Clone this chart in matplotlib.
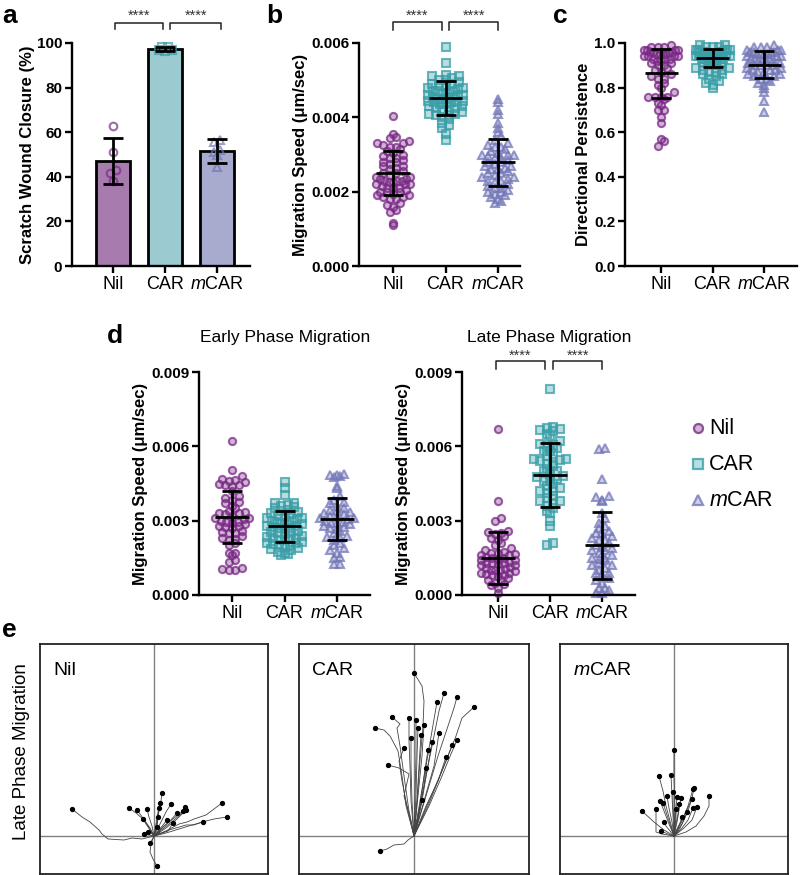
import matplotlib
matplotlib.use('Agg')
import matplotlib.pyplot as plt
import matplotlib.transforms as mtransforms
from matplotlib.colors import to_rgba
import numpy as np

plt.rcParams['font.family'] = ['Liberation Sans', 'DejaVu Sans']
plt.rcParams['mathtext.fontset'] = 'custom'
plt.rcParams['mathtext.rm'] = 'Liberation Sans'
plt.rcParams['mathtext.it'] = 'Liberation Sans:italic'

# groups
groups = ['Nil', 'CAR', '$m$CAR']
markers = ['o', 's', '^']
pt_colors = ['#7A2A86', '#3A9FA8', '#7478B8']
bar_colors = ['#A77BAE', '#9BCAD1', '#A8AACE']

# a: scratch wound closure (%)
wound = [
    [63.0, 51.0, 43.0, 41.5, 38.0],
    [98.0, 98.2, 97.0, 96.5, 97.0],
    [56.5, 55.5, 52.0, 51.0, 50.0, 44.5],
]
wound_mean = [47.0, 97.3, 51.6]
wound_sd = [10.4, 0.8, 5.3]

# b: migration speed (x 0.001 um/sec)
speed_nil = [4.03, 3.55, 3.45, 3.48, 3.35, 3.30, 3.25, 3.20, 3.15, 3.10, 3.05, 3.00, 2.95,
             2.90, 2.85, 2.80, 2.80, 2.75, 2.70, 2.65, 2.60, 2.55, 2.50, 2.50, 2.45, 2.40,
             2.40, 2.35, 2.30, 2.30, 2.25, 2.20, 2.20, 2.15, 2.10, 2.10, 2.05, 2.00, 2.00,
             1.95, 1.90, 1.90, 1.85, 1.85, 1.80, 1.80, 1.70, 1.65, 1.60, 1.50, 1.45, 1.10,
             1.15, 2.20, 2.25, 2.30, 2.10, 2.35, 2.00, 3.30, 3.20, 2.90, 2.70]
speed_car = [5.90, 5.45, 5.15, 5.10, 5.10, 5.05, 5.00, 5.00, 4.95, 4.90, 4.90, 4.85, 4.80,
             4.80, 4.75, 4.70, 4.70, 4.65, 4.60, 4.60, 4.55, 4.55, 4.50, 4.50, 4.45, 4.45,
             4.40, 4.40, 4.35, 4.30, 4.30, 4.25, 4.20, 4.20, 4.15, 4.10, 4.05, 4.05, 4.00,
             3.95, 3.85, 3.80, 3.70, 3.55, 3.40, 4.60, 4.65, 4.50, 4.40, 4.35, 4.85, 4.70,
             4.25, 4.10]
speed_mcar = [4.50, 4.40, 4.20, 4.10, 3.85, 3.70, 3.60, 3.50, 3.40, 3.30, 3.25, 3.20, 3.15,
              3.10, 3.05, 3.00, 3.00, 2.95, 2.90, 2.85, 2.80, 2.80, 2.75, 2.70, 2.65, 2.60,
              2.60, 2.55, 2.50, 2.45, 2.40, 2.40, 2.35, 2.30, 2.25, 2.20, 2.15, 2.10, 2.10,
              2.05, 2.00, 2.00, 1.95, 1.90, 1.85, 1.80, 1.75, 1.70, 3.20, 2.90, 2.70, 2.50,
              2.30, 3.00]
speed_mean = [2.50, 4.51, 2.79]
speed_sd = [0.60, 0.46, 0.63]

# c: directional persistence
pers_nil = [0.99, 0.98, 0.98, 0.97, 0.97, 0.97, 0.96, 0.96, 0.96, 0.95, 0.95, 0.95, 0.94,
            0.94, 0.94, 0.93, 0.93, 0.92, 0.92, 0.91, 0.91, 0.90, 0.90, 0.89, 0.88, 0.87,
            0.86, 0.85, 0.84, 0.84, 0.82, 0.81, 0.80, 0.78, 0.76, 0.76, 0.76, 0.76, 0.75,
            0.73, 0.72, 0.70, 0.70, 0.67, 0.64, 0.57, 0.54, 0.56, 0.96, 0.97, 0.95, 0.93,
            0.98, 0.94]
pers_car = [0.99, 0.99, 0.98, 0.98, 0.98, 0.97, 0.97, 0.97, 0.97, 0.96, 0.96, 0.96, 0.96,
            0.95, 0.95, 0.95, 0.95, 0.94, 0.94, 0.94, 0.93, 0.93, 0.93, 0.92, 0.92, 0.92,
            0.91, 0.91, 0.90, 0.90, 0.89, 0.89, 0.88, 0.88, 0.87, 0.87, 0.86, 0.86, 0.85,
            0.84, 0.83, 0.82, 0.80, 0.81, 0.94, 0.95, 0.96, 0.97, 0.93, 0.92]
pers_mcar = [0.99, 0.98, 0.98, 0.98, 0.97, 0.97, 0.97, 0.96, 0.96, 0.96, 0.95, 0.95, 0.95,
             0.94, 0.94, 0.94, 0.93, 0.93, 0.93, 0.92, 0.92, 0.91, 0.91, 0.90, 0.90, 0.90,
             0.89, 0.89, 0.88, 0.88, 0.87, 0.87, 0.86, 0.86, 0.85, 0.85, 0.84, 0.84, 0.83,
             0.82, 0.81, 0.80, 0.78, 0.74, 0.69, 0.96, 0.95, 0.93, 0.92, 0.90, 0.88]
pers_mean = [0.865, 0.932, 0.902]
pers_sd = [0.110, 0.040, 0.061]

# d: early phase speed (x 0.001 um/sec)
early_nil = [6.20, 5.05, 4.80, 4.70, 4.65, 4.60, 4.55, 4.50, 4.45, 4.40, 4.20, 4.00, 3.90,
             3.85, 3.70, 3.60, 3.50, 3.40, 3.30, 3.30, 3.25, 3.20, 3.10, 3.05, 3.00, 2.95,
             2.90, 2.85, 2.80, 2.75, 2.70, 2.60, 2.55, 2.50, 2.50, 2.40, 2.30, 2.25, 2.20,
             2.10, 2.00, 1.70, 1.70, 1.60, 1.40, 1.35, 1.10, 1.05, 1.00, 1.00, 3.35, 3.10,
             2.95, 2.80, 4.45, 3.75]
early_car = [4.55, 4.30, 4.05, 3.70, 3.70, 3.65, 3.60, 3.55, 3.50, 3.45, 3.40, 3.35, 3.30,
             3.25, 3.20, 3.15, 3.10, 3.05, 3.00, 2.95, 2.90, 2.85, 2.80, 2.80, 2.75, 2.70,
             2.65, 2.60, 2.55, 2.50, 2.45, 2.40, 2.35, 2.30, 2.25, 2.20, 2.15, 2.10, 2.05,
             2.00, 1.95, 1.90, 1.85, 1.80, 1.75, 1.70, 1.65, 1.60, 3.00, 2.90, 2.70, 2.50,
             2.30, 2.20, 2.10, 2.00, 3.10]
early_mcar = [4.90, 4.85, 4.85, 4.80, 4.75, 4.40, 4.30, 4.00, 3.85, 3.75, 3.70, 3.60, 3.50,
              3.45, 3.40, 3.30, 3.25, 3.20, 3.15, 3.10, 3.05, 3.00, 2.95, 2.90, 2.85, 2.80,
              2.75, 2.70, 2.60, 2.50, 2.40, 2.35, 2.30, 2.20, 2.10, 2.00, 1.90, 1.80, 1.70,
              1.55, 1.50, 1.25, 1.25, 3.35, 3.10, 2.90, 2.65]
early_mean = [3.15, 2.77, 3.05]
early_sd = [1.05, 0.64, 0.85]

# d: late phase speed (x 0.001 um/sec)
late_nil = [6.70, 3.80, 3.10, 3.00, 2.60, 2.55, 2.50, 2.45, 2.40, 2.30, 2.20, 2.10, 2.00,
            1.90, 1.80, 1.75, 1.70, 1.65, 1.60, 1.55, 1.50, 1.50, 1.45, 1.40, 1.35, 1.30,
            1.30, 1.25, 1.20, 1.15, 1.10, 1.05, 1.00, 1.00, 0.95, 0.90, 0.85, 0.80, 0.75,
            0.70, 0.60, 0.50, 0.45, 0.40, 0.30, 0.10, 1.60, 1.40, 1.20, 1.00, 0.80, 1.70,
            1.30, 0.90, 0.60]
late_car = [8.30, 6.80, 6.75, 6.70, 6.65, 6.60, 6.50, 6.40, 6.10, 6.05, 6.00, 5.95, 5.80,
            5.70, 5.60, 5.50, 5.45, 5.40, 5.30, 5.20, 5.10, 5.00, 4.90, 4.80, 4.75, 4.70,
            4.60, 4.50, 4.40, 4.30, 4.20, 4.10, 4.00, 3.90, 3.80, 3.70, 3.60, 3.50, 3.40,
            3.30, 3.00, 2.80, 2.00, 2.10, 5.50, 5.30, 5.00, 4.60, 4.20, 3.80, 6.20, 5.80]
late_mcar = [5.90, 5.95, 4.70, 4.00, 3.95, 3.85, 3.80, 3.30, 3.10, 2.90, 2.80, 2.70, 2.60,
             2.50, 2.40, 2.30, 2.20, 2.10, 2.00, 1.95, 1.90, 1.80, 1.70, 1.60, 1.50, 1.45,
             1.40, 1.30, 1.20, 1.10, 1.00, 0.90, 0.80, 0.70, 0.60, 0.50, 0.30, 0.30, 0.20,
             0.10, 0.10, 2.50, 2.20, 1.80, 1.50, 1.20, 0.90]
late_mean = [1.50, 4.85, 2.00]
late_sd = [1.05, 1.28, 1.35]

# e: late phase tracks (start at origin)
tracks_nil = [
    [(0, 0), (-12, -3), (-22, -2), (-30, -4), (-46, -3), (-52, 2), (-55, 6), (-64, 14), (-72, 19), (-82, 27)],
    [(0, 0), (12, 5), (25, 12), (33, 14), (40, 17), (52, 21), (60, 27), (68, 33)],
    [(0, 0), (15, 6), (32, 11), (40, 11), (48, 14), (60, 17), (73, 19)],
    [(0, 0), (12, 3), (25, 7), (38, 11), (49, 14)],
    [(0, 0), (3, 12), (5, 25), (7, 35), (8, 43)],
    [(0, 0), (2, 12), (4, 24), (6, 33)],
    [(0, 0), (3, 10), (4, 20), (5, 28)],
    [(0, 0), (6, 12), (12, 24), (17, 32)],
    [(0, 0), (10, 8), (20, 16), (27, 22), (31, 29)],
    [(0, 0), (12, 8), (22, 16), (32, 26)],
    [(0, 0), (8, 8), (16, 15), (23, 23)],
    [(0, 0), (-4, 8), (-10, 16), (-18, 23), (-25, 28)],
    [(0, 0), (-5, 9), (-11, 18), (-17, 26)],
    [(0, 0), (-2, 10), (-5, 19), (-7, 27)],
    [(0, 0), (-4, 6), (-8, 12), (-11, 17)],
    [(0, 0), (-5, 1), (-10, 2)],
    [(0, 0), (2, 8), (3, 14), (4, 19)],
    [(0, 0), (5, 6), (9, 11), (13, 16)],
    [(0, 0), (-3, -8), (-4, -16), (-1, -23), (3, -30)],
    [(0, 0), (-2, -4), (-4, -7)],
    [(0, 0), (14, 5), (19, 13)],
    [(0, 0), (10, 10), (20, 18), (29, 25)],
    [(0, 0), (-3, 3), (-6, 4)],
    [(0, 0), (6, 4), (3, 9)],
]
tracks_car = [
    [(0, 0), (3, 35), (6, 75), (9, 110), (10, 135), (8, 150), (0, 163)],
    [(0, 0), (7, 35), (14, 70), (20, 100), (25, 125), (30, 143)],
    [(0, 0), (12, 40), (24, 80), (34, 110), (40, 128), (43, 139)],
    [(0, 0), (15, 35), (30, 70), (42, 100), (48, 118), (60, 129)],
    [(0, 0), (6, 35), (12, 70), (18, 105), (23, 134)],
    [(0, 0), (-5, 25), (-10, 60), (-14, 90), (-17, 108), (-14, 112), (-22, 119)],
    [(0, 0), (-8, 30), (-12, 60), (-16, 85), (-24, 100), (-30, 106), (-39, 108)],
    [(0, 0), (-3, 35), (-4, 70), (-5, 95), (-5, 118)],
    [(0, 0), (1, 40), (2, 80), (2, 116)],
    [(0, 0), (4, 40), (8, 80), (10, 111)],
    [(0, 0), (2, 40), (3, 80), (4, 108)],
    [(0, 0), (-2, 35), (-3, 70), (-3, 98)],
    [(0, 0), (3, 35), (5, 70), (7, 101)],
    [(0, 0), (-6, 25), (-12, 55), (-15, 75), (-10, 88)],
    [(0, 0), (6, 30), (10, 60), (14, 86)],
    [(0, 0), (8, 35), (13, 65), (18, 94)],
    [(0, 0), (10, 35), (20, 70), (25, 103)],
    [(0, 0), (15, 30), (28, 60), (37, 82), (43, 96)],
    [(0, 0), (14, 30), (26, 60), (34, 80), (38, 91)],
    [(0, 0), (12, 30), (24, 55), (32, 79)],
    [(0, 0), (-4, 20), (-10, 40), (-5, 62), (-15, 68), (-26, 71)],
    [(0, 0), (5, 25), (10, 50), (12, 68)],
    [(0, 0), (4, 15), (8, 36)],
    [(0, 0), (-6, -4), (-10, -8), (-20, -9), (-27, -13), (-34, -15)],
]
tracks_mcar = [
    [(0, 0), (1, 25), (0, 55), (0, 86)],
    [(0, 0), (-4, 15), (-8, 30), (-11, 45), (-15, 60)],
    [(0, 0), (-1, 20), (-2, 40), (-3, 61)],
    [(0, 0), (8, 12), (14, 25), (18, 38), (20, 48)],
    [(0, 0), (12, 4), (22, 10), (30, 20), (35, 30), (35, 40)],
    [(0, 0), (-10, 6), (-20, 14), (-32, 25)],
    [(0, 0), (-12, 2), (-18, 4), (-18, 27)],
    [(0, 0), (-5, 12), (-10, 25), (-14, 35)],
    [(0, 0), (-4, 12), (-8, 24), (-11, 33)],
    [(0, 0), (-2, 14), (-5, 28), (-7, 40)],
    [(0, 0), (0, 15), (-1, 30), (-1, 44)],
    [(0, 0), (1, 14), (2, 27), (3, 39)],
    [(0, 0), (2, 12), (4, 22), (5, 32)],
    [(0, 0), (3, 14), (5, 26), (7, 38)],
    [(0, 0), (6, 12), (12, 24), (18, 37)],
    [(0, 0), (8, 8), (14, 16), (19, 28)],
    [(0, 0), (10, 8), (18, 16), (23, 29)],
    [(0, 0), (6, 8), (10, 16), (13, 24)],
    [(0, 0), (3, 7), (6, 13), (8, 19)],
    [(0, 0), (-4, 5), (-8, 10), (-10, 14)],
    [(0, 0), (-6, 2), (-13, 5)],
    [(0, 0), (1, 10), (2, 18), (2, 27)],
    [(0, 0), (8, 15), (14, 30), (19, 47)],
]

W, H = 800, 875
fig = plt.figure(figsize=(W / 100, H / 100), dpi=100)


def px_axes(l, t, r, b):
    return fig.add_axes([l / W, 1 - b / H, (r - l) / W, (b - t) / H])


def ftext(x, y, s, **kw):
    fig.text(x / W, 1 - y / H, s, **kw)


def swarm_offsets(vals, binsize, dx=0.125, half=0.33):
    vals = np.asarray(vals, dtype=float)
    off = np.zeros(len(vals))
    bins = np.floor(vals / binsize).astype(int)
    for b in np.unique(bins):
        idx = np.where(bins == b)[0]
        idx = idx[np.argsort(vals[idx], kind='stable')]
        n = len(idx)
        step = dx if n <= 1 else min(dx, 2 * half / (n - 1))
        slots = (np.arange(n) - (n - 1) / 2) * step
        order = np.argsort(np.abs(slots), kind='stable')
        off[idx] = slots[order]
    return off


def style_axes(ax, xlim, ylim, yticks, fmt):
    ax.set_xlim(*xlim)
    ax.set_ylim(*ylim)
    for s in ['top', 'right']:
        ax.spines[s].set_visible(False)
    for s in ['left', 'bottom']:
        ax.spines[s].set_linewidth(1.7)
    ax.set_xticks(range(3))
    ax.set_xticklabels(groups, fontsize=13)
    ax.set_yticks(yticks)
    ax.set_yticklabels([fmt.format(v) for v in yticks], fontweight='bold', fontsize=11)
    ax.tick_params(width=1.7, length=5, direction='out', pad=2)
    ax.set_facecolor('none')


def draw_points(ax, datasets, scale, binsize, ms=5.2, alpha_f=0.35, alpha_e=0.75):
    for i, vals in enumerate(datasets):
        v = np.asarray(vals) * scale
        x = i + swarm_offsets(v, binsize)
        ax.plot(x, v, ls='none', marker=markers[i], ms=ms,
                mfc=to_rgba(pt_colors[i], alpha_f), mec=to_rgba(pt_colors[i], alpha_e),
                mew=1.5, clip_on=False, zorder=2)


def draw_mean_sd(ax, means, sds, scale, mean_line=True):
    for i, (m, s) in enumerate(zip(means, sds)):
        if mean_line:
            ax.hlines(m * scale, i - 0.32, i + 0.32, color='black', lw=2.0, zorder=4)
        ax.errorbar(i, m * scale, yerr=s * scale, fmt='none', ecolor='black',
                    elinewidth=2.0, capsize=7, capthick=2.0, zorder=4)


def sig_brackets(ax, pairs, y_text, y_top, y_leg):
    tr = mtransforms.blended_transform_factory(ax.transData, fig.transFigure)
    for x0, x1 in pairs:
        ax.plot([x0, x0, x1, x1], [1 - y_leg / H, 1 - y_top / H, 1 - y_top / H, 1 - y_leg / H],
                color='#222222', lw=1.1, transform=tr, clip_on=False)
        ax.text((x0 + x1) / 2, 1 - y_text / H, '****', transform=tr, ha='center',
                va='center', fontsize=10.5, color='#333333')


# ---- a ----
ax = px_axes(72, 43, 250, 266)
ax.bar(range(3), wound_mean, width=0.65, color=bar_colors, edgecolor='black',
       linewidth=2.0, zorder=1)
draw_points(ax, wound, 1.0, 3.6, ms=5.5, alpha_f=0.0, alpha_e=0.7)
draw_mean_sd(ax, wound_mean, wound_sd, 1.0, mean_line=False)
style_axes(ax, (-0.79, 2.63), (0, 100), [0, 20, 40, 60, 80, 100], '{:.0f}')
ax.set_ylabel('Scratch Wound Closure (%)', fontsize=12, fontweight='bold', labelpad=1)
sig_brackets(ax, [(0.03, 0.95), (1.1, 2.07)], 16, 23, 29)

# ---- b ----
ax = px_axes(359, 43, 520, 266)
draw_points(ax, [speed_nil, speed_car, speed_mcar], 1e-3, 0.00016)
draw_mean_sd(ax, speed_mean, speed_sd, 1e-3)
style_axes(ax, (-0.65, 2.42), (0, 0.006), [0, 0.002, 0.004, 0.006], '{:.3f}')
ax.set_ylabel('Migration Speed (\u03bcm/sec)', fontsize=12, fontweight='bold', labelpad=2)
sig_brackets(ax, [(0.0, 0.93), (1.07, 2.0)], 16, 22, 30)

# ---- c ----
ax = px_axes(625, 43, 797, 266)
draw_points(ax, [pers_nil, pers_car, pers_mcar], 1.0, 0.027)
draw_mean_sd(ax, pers_mean, pers_sd, 1.0)
style_axes(ax, (-0.70, 2.64), (0, 1.0), [0, 0.2, 0.4, 0.6, 0.8, 1.0], '{:.1f}')
ax.set_ylabel('Directional Persistence', fontsize=12, fontweight='bold', labelpad=2)

# ---- d early ----
ax = px_axes(199, 372, 370, 595)
draw_points(ax, [early_nil, early_car, early_mcar], 1e-3, 0.00024)
draw_mean_sd(ax, early_mean, early_sd, 1e-3)
style_axes(ax, (-0.63, 2.63), (0, 0.009), [0, 0.003, 0.006, 0.009], '{:.3f}')
ax.set_ylabel('Migration Speed (\u03bcm/sec)', fontsize=12, fontweight='bold', labelpad=2)

# ---- d late ----
ax = px_axes(462, 372, 635, 595)
draw_points(ax, [late_nil, late_car, late_mcar], 1e-3, 0.00024)
draw_mean_sd(ax, late_mean, late_sd, 1e-3)
style_axes(ax, (-0.69, 2.63), (0, 0.009), [0, 0.003, 0.006, 0.009], '{:.3f}')
ax.set_ylabel('Migration Speed (\u03bcm/sec)', fontsize=12, fontweight='bold', labelpad=2)
sig_brackets(ax, [(-0.04, 0.9), (1.06, 2.0)], 356, 361, 369)

ftext(285, 342, 'Early Phase Migration', fontsize=12.5, ha='center', va='baseline')
ftext(549, 342, 'Late Phase Migration', fontsize=12.5, ha='center', va='baseline')

# legend
lax = px_axes(660, 400, 800, 520)
lax.set_xlim(660, 800)
lax.set_ylim(520, 400)
lax.axis('off')
for i, (g, yy) in enumerate(zip(groups, [428, 464, 500])):
    lax.plot(698, yy, ls='none', marker=markers[i], ms=6.5,
             mfc=to_rgba(pt_colors[i], 0.35), mec=to_rgba(pt_colors[i], 0.8), mew=1.6)
    lax.text(709, yy, g, fontsize=15.5, va='center', ha='left')

# ---- e ----
def track_axes(l, r, title, tracks):
    ax = px_axes(l, 644, r, 874)
    half = (r - l) / 2
    ax.set_xlim(-half, half)
    ax.set_ylim(-38, 192)
    ax.axhline(0, color='#808080', lw=1.0, zorder=1)
    ax.axvline(0, color='#808080', lw=1.0, zorder=1)
    for tr in tracks:
        xy = np.array(tr, dtype=float)
        ax.plot(xy[:, 0], xy[:, 1], color='#444444', lw=0.6, zorder=2)
        ax.plot(xy[-1, 0], xy[-1, 1], 'o', color='black', ms=2.8, zorder=3)
    ax.set_xticks([])
    ax.set_yticks([])
    for s in ax.spines.values():
        s.set_linewidth(1.3)
        s.set_color('#222222')
    ax.text(0.057, 0.865, title, transform=ax.transAxes, fontsize=14, va='baseline')


track_axes(40, 268, 'Nil', tracks_nil)
track_axes(299, 529, 'CAR', tracks_car)
track_axes(560, 788, '$m$CAR', tracks_mcar)
ftext(22, 752, 'Late Phase Migration', fontsize=13.5, rotation=90, ha='center', va='center')

# panel letters
ftext(2, 23, 'a', fontsize=19, fontweight='bold', va='baseline')
ftext(266, 23, 'b', fontsize=19, fontweight='bold', va='baseline')
ftext(553, 23, 'c', fontsize=19, fontweight='bold', va='baseline')
ftext(107, 343, 'd', fontsize=19, fontweight='bold', va='baseline')
ftext(2, 637, 'e', fontsize=19, fontweight='bold', va='baseline')

fig.savefig('out.png', dpi=100)
